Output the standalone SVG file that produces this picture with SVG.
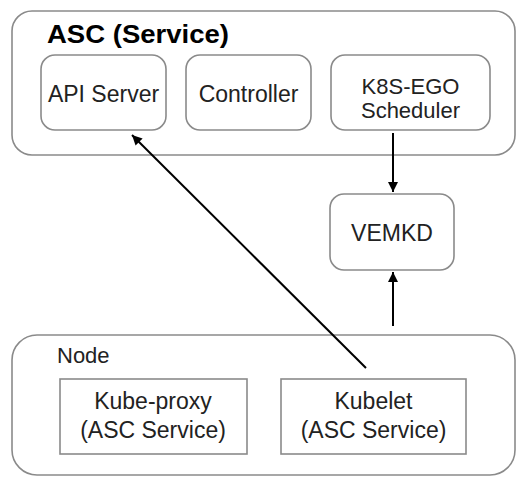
<svg xmlns="http://www.w3.org/2000/svg" width="523" height="492" viewBox="0 0 523 492">
<style>
.box{fill:#fff;stroke:#8a8a8a;stroke-width:1.6}
.t{font-family:"Liberation Sans",Arial,sans-serif;font-size:23px;fill:#222;text-anchor:middle}
.title{font-family:"Liberation Sans",Arial,sans-serif;font-size:25px;font-weight:bold;fill:#000}
.c{stroke:#000;stroke-width:2;fill:none}
</style>
<defs>
<marker id="ah" viewBox="0 0 10 10" refX="10" refY="5" markerWidth="5.5" markerHeight="5" orient="auto" markerUnits="strokeWidth">
<path d="M0,0 L10,5 L0,10 z" fill="#000"/>
</marker>
</defs>
<rect width="523" height="492" fill="#fff"/>
<g id="asc">
<rect class="box" x="12" y="11" width="503" height="144" rx="20"/>
<text class="title" x="47" y="43" textLength="182" lengthAdjust="spacingAndGlyphs">ASC (Service)</text>
</g>
<g id="api-server">
<rect class="box" x="41" y="55" width="125" height="75" rx="14"/>
<text class="t" x="103.5" y="102">API Server</text>
</g>
<g id="controller">
<rect class="box" x="186" y="55" width="125" height="75" rx="14"/>
<text class="t" x="248.5" y="102">Controller</text>
</g>
<g id="scheduler">
<rect class="box" x="331" y="55" width="159" height="75" rx="14"/>
<text class="t" x="410.5" y="94" style="font-size:22px">K8S-EGO</text>
<text class="t" x="410.5" y="118" style="font-size:22px">Scheduler</text>
</g>
<g id="vemkd">
<rect class="box" x="330" y="194" width="124" height="76" rx="14"/>
<text class="t" x="392" y="241">VEMKD</text>
</g>
<g id="node">
<rect class="box" x="12" y="335" width="503" height="140" rx="25"/>
<text class="t" x="57" y="363" style="text-anchor:start;font-size:22px">Node</text>
</g>
<g id="kube-proxy">
<rect class="box" x="60" y="379" width="187" height="75"/>
<text class="t" x="153" y="409">Kube-proxy</text>
<text class="t" x="153" y="438">(ASC Service)</text>
</g>
<g id="kubelet">
<rect class="box" x="281" y="379" width="185" height="75"/>
<text class="t" x="373.5" y="409">Kubelet</text>
<text class="t" x="373.5" y="438">(ASC Service)</text>
</g>
<g id="connectors">
<line class="c" x1="393" y1="133" x2="393" y2="192" marker-end="url(#ah)"/>
<line class="c" x1="393" y1="326" x2="393" y2="272" marker-end="url(#ah)"/>
<line class="c" x1="366" y1="368" x2="132" y2="135" marker-end="url(#ah)"/>
</g>
</svg>
